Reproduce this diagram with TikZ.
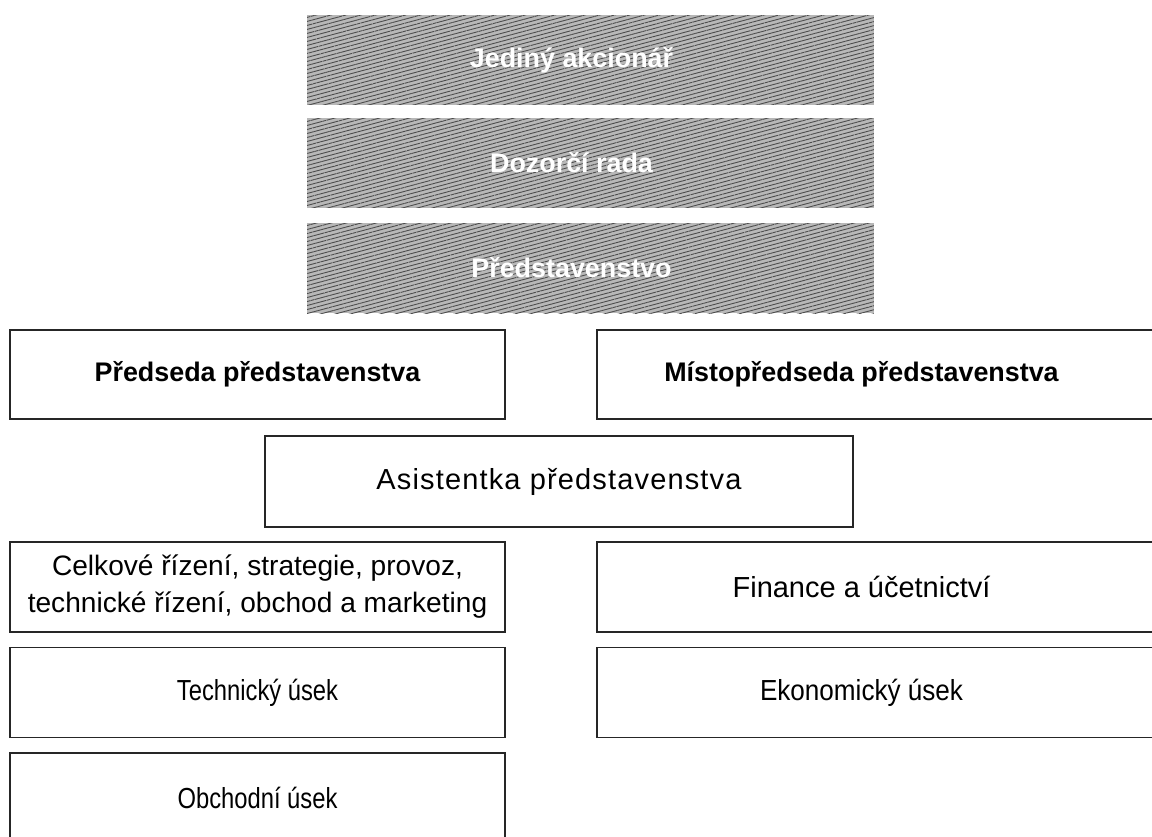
\documentclass[tikz,border=0pt]{standalone}
\usepackage{fontspec}
\setmainfont{Liberation Sans}
\newfontfamily\narrowsans[FakeStretch=0.82]{Liberation Sans}
\newfontfamily\midsans[FakeStretch=0.9]{Liberation Sans}
\newfontfamily\widesans[LetterSpace=4]{Liberation Sans}
\usetikzlibrary{patterns.meta}

\begin{document}
\begin{tikzpicture}[x=0.02cm,y=-0.02cm,
		organ/.style={rectangle, minimum width=11.34cm, minimum height=1.8cm,
			fill=black!28,
			postaction={pattern={Lines[angle=15,distance=2.2pt,line width=0.5pt]}, pattern color=black!70}},
		organtext/.style={text=white, font=\fontsize{15.3}{18}\selectfont\bfseries, xshift=-0.38cm},
		boss/.style={rectangle, draw=black!85, line width=0.7pt, minimum height=1.78cm,
			font=\fontsize{15.3}{18}\selectfont\bfseries},
		unit/.style={rectangle, draw=black!85, line width=0.7pt, minimum height=1.8cm,
			font=\fontsize{16.5}{20}\selectfont, align=center},
		righttext/.style={xshift=-0.32cm}]
	\clip (0,0) rectangle (1152,836);
	\fill[white] (0,0) rectangle (1152,836);
	\begin{scope}
		\node[organ] (akcionar) at (590.5,60) {};
		\node[organ] (rada) at (590.5,163) {};
		\node[organ] (predstavenstvo) at (590.5,268) {};
		\node[organtext] (akcionarT) at (akcionar) {Jediný akcionář};
		\node[organtext] (radaT) at (rada) {Dozorčí rada};
		\node[organtext] (predstavenstvoT) at (predstavenstvo) {Představenstvo};
	\end{scope}
	\begin{scope}
		\node[boss, minimum width=9.9cm] (predseda) at (257.5,374.5) {Předseda představenstva};
		\node[boss, minimum width=11.22cm] (mistopredseda) at (877.5,374.5) {};
		\node[righttext, font=\fontsize{15.3}{18}\selectfont\bfseries] (mistopredsedaT) at (mistopredseda) {Místopředseda představenstva};
		\node[unit, minimum width=11.76cm, minimum height=1.82cm, font=\fontsize{16.5}{20}\widesans] (asistentka) at (559,481.5) {Asistentka představenstva};
	\end{scope}
	\begin{scope}
		\node[unit, minimum width=9.9cm, font=\fontsize{16}{21}\selectfont] (rizeni) at (257.5,587) {Celkové řízení, strategie, provoz,\\technické řízení, obchod a marketing};
		\node[unit, minimum width=11.22cm] (finance) at (877.5,587) {};
		\node[righttext, font=\fontsize{16.5}{20}\selectfont] (financeT) at (finance) {Finance a účetnictví};
		\node[unit, minimum width=9.9cm, font=\fontsize{16.5}{20}\narrowsans] (technicky) at (257.5,692.5) {Technický úsek};
		\node[unit, minimum width=11.22cm] (ekonomicky) at (877.5,692.5) {};
		\node[righttext, font=\fontsize{16.5}{20}\midsans] (ekonomickyT) at (ekonomicky) {Ekonomický úsek};
		\node[unit, minimum width=9.9cm, font=\fontsize{16.5}{20}\narrowsans] (obchodni) at (257.5,798) {Obchodní úsek};
	\end{scope}
\end{tikzpicture}
\end{document}
